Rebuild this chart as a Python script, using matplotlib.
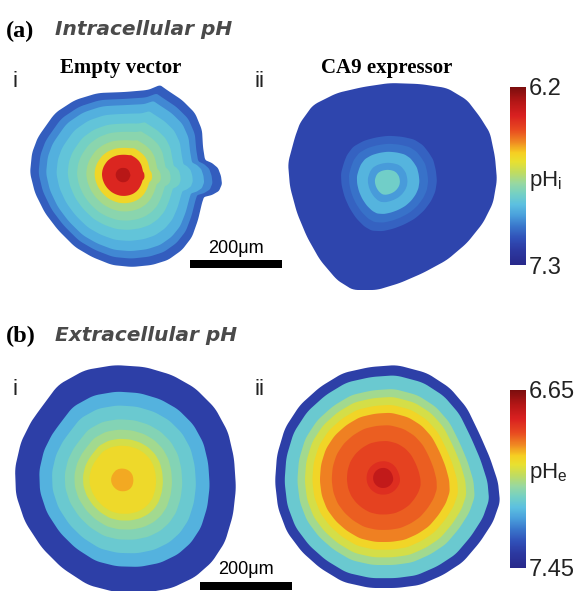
import numpy as np
import matplotlib
matplotlib.use("Agg")
import matplotlib.pyplot as plt
from matplotlib.colors import LinearSegmentedColormap, Normalize
from matplotlib.cm import ScalarMappable
from matplotlib.patches import Rectangle

# ---------------- data ----------------
SCALE_BAR_UM = 200
PX_PER_UM = 92 / 200

# colormap (low pH = red  ->  high pH = navy)
cmap_pos = [0.00, 0.08, 0.16, 0.24, 0.31, 0.37, 0.42, 0.48, 0.54, 0.60, 0.66, 0.72, 0.78, 0.85, 0.92, 1.00]
cmap_hex = ["#7a0d0d", "#b31616", "#d92020", "#e84a20", "#f08a22", "#f6cf22", "#e8e030",
            "#c0dc60", "#98d8a0", "#74d0c4", "#5cc0e0", "#4aa0dc", "#3a78cc", "#3050b8",
            "#2c38a0", "#28288a"]

# (a) intracellular pH
pHi_range = [6.2, 7.3]
pHi_ticklabels = ["6.2", "7.3"]

empty_dx = [-93, -91, -85, -68, -48, -25, 2, 25, 37, 44, 59, 72, 79, 80, 82, 89, 95, 98, 99,
            96, 89, 81, 79, 75, 69, 59, 45, 29, 9, -11, -31, -48, -65, -78, -88]
empty_dy = [-2, -22, -38, -62, -75, -82, -83, -85, -90, -85, -75, -62, -45, -28, -15, -12, -7, 1, 9,
            16, 20, 22, 28, 45, 62, 75, 85, 90, 92, 90, 82, 72, 55, 38, 18]
empty_ring_scale = [1.0, 0.91, 0.83, 0.72, 0.60, 0.50, 0.40, 0.31, 0.23, 0.08]
empty_ring_pH = [7.11, 7.03, 6.96, 6.91, 6.86, 6.82, 6.77, 6.63, 6.39, 6.30]

ca9_dx = [-99, -92, -87, -74, -50, -24, 3, 33, 60, 80, 93, 103, 108, 110, 106, 96, 80, 60,
          36, 13, -10, -34, -50, -67, -80, -90, -97]
ca9_dy = [-19, -45, -59, -77, -89, -95, -99, -98, -94, -82, -65, -49, -25, -2, 21, 41, 61, 78,
          91, 101, 108, 108, 98, 78, 55, 31, 5]
ca9_ring_scale = [1.0, 0.46, 0.38, 0.30, 0.19, 0.12]
ca9_ring_pH = [7.17, 7.10, 7.07, 6.95, 7.00, 6.87]

# (b) extracellular pH
pHe_range = [6.65, 7.45]
pHe_ticklabels = ["6.65", "7.45"]

ev_e_dx = [-84, -64, -37, -7, 23, 50, 73, 93, 106, 112, 114, 111, 103, 90, 73, 50, 23, -7,
           -34, -60, -80, -97, -106, -107, -101, -91]
ev_e_dy = [-68, -95, -110, -115, -113, -105, -92, -72, -48, -22, 8, 35, 62, 82, 97, 108, 113, 112,
           105, 88, 68, 42, 15, -12, -38, -58]
ev_e_ring_scale = [1.0, 0.77, 0.65, 0.53, 0.44, 0.36, 0.30, 0.10]
ev_e_ring_pH = [7.37, 7.20, 7.15, 7.11, 7.07, 7.01, 6.97, 6.92]

ca9_e_dx = [14, -13, -40, -63, -83, -98, -106, -108, -105, -96, -81, -63, -40, -13, 14, 37, 60, 80,
            97, 110, 117, 115, 107, 97, 84, 67, 44]
ca9_e_dy = [-113, -111, -105, -91, -73, -50, -23, 4, 30, 54, 74, 90, 104, 110, 110, 107, 97, 84,
            64, 44, 24, 4, -20, -43, -70, -90, -105]
ca9_e_ring_scale = [1.0, 0.91, 0.79, 0.72, 0.65, 0.58, 0.47, 0.33, 0.15, 0.09]
ca9_e_ring_pH = [7.37, 7.15, 7.07, 7.01, 6.96, 6.89, 6.86, 6.83, 6.80, 6.74]

# ---------------- figure ----------------
W, H = 578, 591
fig = plt.figure(figsize=(W / 100, H / 100), dpi=100)
ax = fig.add_axes([0, 0, 1, 1])
ax.set_xlim(0, W)
ax.set_ylim(H, 0)
ax.axis("off")

cmap = LinearSegmentedColormap.from_list("phmap", list(zip(cmap_pos, cmap_hex)), N=512)


def closed_curve(dx, dy, n_per=10, win=5):
    x = np.r_[dx, dx[0]].astype(float)
    y = np.r_[dy, dy[0]].astype(float)
    t = np.arange(len(x))
    tt = np.linspace(0, len(x) - 1, (len(x) - 1) * n_per, endpoint=False)
    xi = np.interp(tt, t, x)
    yi = np.interp(tt, t, y)
    k = np.ones(win) / win
    xs = np.convolve(np.r_[xi[-win:], xi, xi[:win]], k, mode="same")[win:-win]
    ys = np.convolve(np.r_[yi[-win:], yi, yi[:win]], k, mode="same")[win:-win]
    return xs, ys


def draw_spheroid(cx, cy, dx, dy, scales, phs, norm, roundness):
    xs, ys = closed_curve(dx, dy)
    r = np.hypot(xs, ys)
    ux, uy = xs / r, ys / r
    rmean = r.mean()
    for i, (s, ph) in enumerate(zip(scales, phs)):
        w = roundness * (1 - s)
        rr = s * ((1 - w) * r + w * rmean)
        ax.fill(cx + rr * ux, cy + rr * uy, color=cmap(norm(ph)), lw=0, zorder=2 + i)


norm_i = Normalize(*pHi_range)
norm_e = Normalize(*pHe_range)

draw_spheroid(123, 175, empty_dx, empty_dy, empty_ring_scale, empty_ring_pH, norm_i, 0.85)
draw_spheroid(387, 182, ca9_dx, ca9_dy, ca9_ring_scale, ca9_ring_pH, norm_i, 0.5)
draw_spheroid(122, 480, ev_e_dx, ev_e_dy, ev_e_ring_scale, ev_e_ring_pH, norm_e, 0.35)
draw_spheroid(383, 478, ca9_e_dx, ca9_e_dy, ca9_e_ring_scale, ca9_e_ring_pH, norm_e, 0.6)

# scale bars
bar_len = SCALE_BAR_UM * PX_PER_UM
ax.add_patch(Rectangle((190, 260), bar_len, 8, color="black", lw=0, zorder=20))
ax.add_patch(Rectangle((200, 582), bar_len, 8, color="black", lw=0, zorder=20))
sb_font = dict(family="Liberation Sans", fontsize=13, ha="center", va="baseline", zorder=21)
ax.text(190 + bar_len / 2, 253, f"{SCALE_BAR_UM}\u03bcm", **sb_font)
ax.text(200 + bar_len / 2, 574, f"{SCALE_BAR_UM}\u03bcm", **sb_font)

# titles
serif_b = dict(family="Liberation Serif", fontweight="bold", va="baseline")
title_f = dict(family="DejaVu Sans", fontweight="bold", style="oblique", color="#4a4a4a",
               fontsize=14.5, va="baseline")
ax.text(6, 37, "(a)", fontsize=17.5, **serif_b)
ax.text(55, 35, "Intracellular pH", **title_f)
ax.text(6, 342, "(b)", fontsize=17.5, **serif_b)
ax.text(55, 341, "Extracellular pH", **title_f)

ax.text(121, 73, "Empty vector", fontsize=15, ha="center", **serif_b)
ax.text(387, 73, "CA9 expressor", fontsize=15, ha="center", **serif_b)

roman = dict(family="Liberation Sans", fontsize=16, va="baseline", color="#222222")
ax.text(12, 87, "i", **roman)
ax.text(254, 87, "ii", **roman)
ax.text(12, 395, "i", **roman)
ax.text(254, 395, "ii", **roman)

# colorbars
def add_cbar(y_top, y_bot, norm, ticks, labels, name, y_lab):
    cax = fig.add_axes([510 / W, 1 - y_bot / H, 16 / W, (y_bot - y_top) / H])
    cb = fig.colorbar(ScalarMappable(norm=norm, cmap=cmap), cax=cax)
    cb.outline.set_visible(False)
    cax.invert_yaxis()
    cb.set_ticks(ticks)
    cb.set_ticklabels(labels)
    cax.tick_params(length=0, pad=2, labelsize=17)
    for t in cax.get_yticklabels():
        t.set_family("Liberation Sans")
        t.set_color("#222222")
    ax.text(529, y_lab, name, family="Liberation Sans", fontsize=16, va="center",
            color="#222222")

add_cbar(87, 265, norm_i, pHi_range, pHi_ticklabels, r"pH$_{\mathregular{i}}$", 181)
add_cbar(390, 568, norm_e, pHe_range, pHe_ticklabels, r"pH$_{\mathregular{e}}$", 473)

fig.savefig("out.png", dpi=100)
